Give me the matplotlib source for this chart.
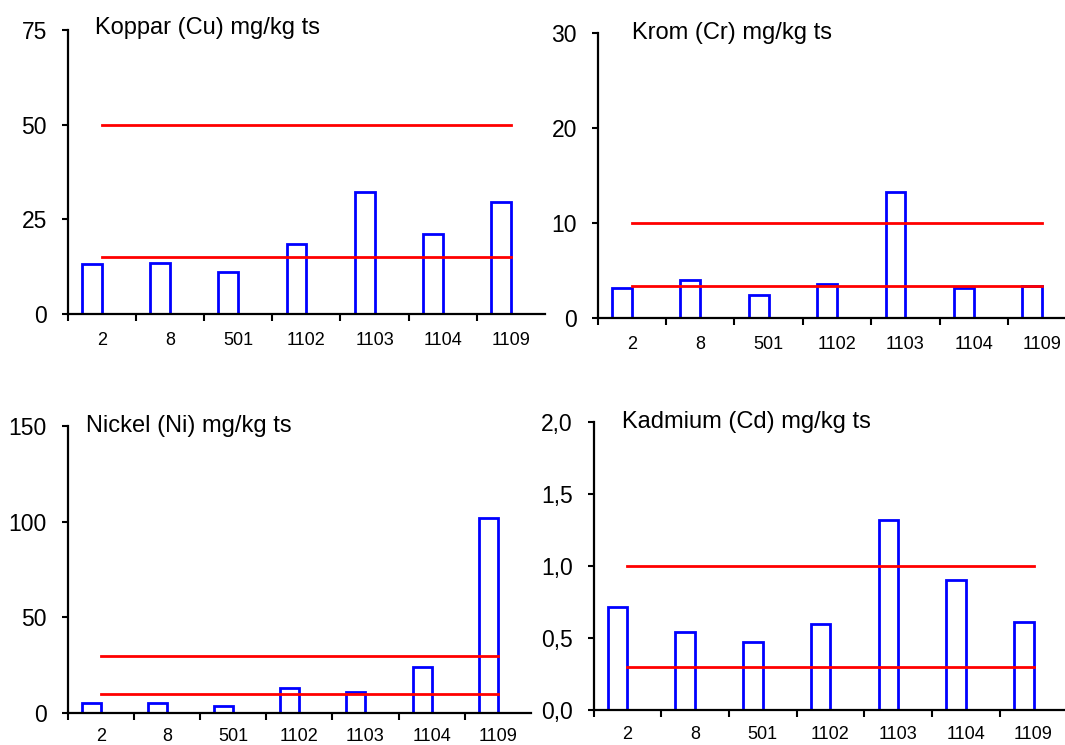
import matplotlib
matplotlib.use('Agg')
import matplotlib.pyplot as plt
import numpy as np

plt.rcParams['font.family'] = ['Liberation Sans', 'DejaVu Sans']

stations = ['2', '8', '501', '1102', '1103', '1104', '1109']

cu_values = [13.2, 13.6, 11.1, 18.5, 32.2, 21.1, 29.7]
cu_limits = [50, 15]
cu_ticks = [0, 25, 50, 75]

cr_values = [3.2, 4.07, 2.4, 3.6, 13.3, 3.2, 3.4]
cr_limits = [10, 3.4]
cr_ticks = [0, 10, 20, 30]

ni_values = [5.2, 5.2, 4.0, 13.3, 11.1, 24.0, 102]
ni_limits = [30, 10]
ni_ticks = [0, 50, 100, 150]

cd_values = [0.72, 0.545, 0.475, 0.60, 1.32, 0.906, 0.614]
cd_limits = [1.0, 0.3]
cd_ticks = [0.0, 0.5, 1.0, 1.5, 2.0]

W, H = 1065, 745

panels = [
    # title, values, limits, yticks, decimals, axes rect (px: left, top, right, bottom), title pos (px: x, baseline), label pad
    ('Koppar (Cu) mg/kg ts', cu_values, cu_limits, cu_ticks, 0, (67.8, 30, 545, 314), (94.7, 34), 13),
    ('Krom (Cr) mg/kg ts', cr_values, cr_limits, cr_ticks, 0, (597.6, 33, 1076.4, 318.3), (632, 39), 13),
    ('Nickel (Ni) mg/kg ts', ni_values, ni_limits, ni_ticks, 0, (67.6, 425.7, 531, 713.3), (86.2, 432.3), 10.5),
    ('Kadmium (Cd) mg/kg ts', cd_values, cd_limits, cd_ticks, 1, (593.5, 422.3, 1067.4, 710.3), (622, 428.3), 11.5),
]

fig = plt.figure(figsize=(W / 100, H / 100), dpi=100)

bar_w = 0.29
n = len(stations)
centers = np.arange(n) + 0.5

for title, vals, limits, yticks, dec, (l, t, r, b), (tx, ty), xpad in panels:
    ax = fig.add_axes([l / W, (H - b) / H, (r - l) / W, (b - t) / H])
    ax.bar(centers - bar_w, vals, width=bar_w, align='edge',
           facecolor='none', edgecolor='#0000FF', linewidth=2, zorder=2)
    for lim in limits:
        ax.plot([centers[0], centers[-1]], [lim, lim], color='#FF0000', linewidth=2, zorder=3)

    ax.set_xlim(0, n)
    ax.set_ylim(yticks[0], yticks[-1])

    ax.set_xticks(np.arange(n))
    ax.set_xticklabels([])
    ax.set_xticks(centers, minor=True)
    ax.set_xticklabels(stations, minor=True, fontsize=13)
    ax.tick_params(axis='x', which='major', direction='out', length=5, width=1.5)
    ax.tick_params(axis='x', which='minor', length=0, pad=xpad)

    ax.set_yticks(yticks)
    if dec:
        ax.set_yticklabels([f'{v:.1f}'.replace('.', ',') for v in yticks])
    else:
        ax.set_yticklabels([str(v) for v in yticks])
    ax.tick_params(axis='y', direction='out', length=4, width=1.5, labelsize=16.5, pad=11)

    for side in ['top', 'right']:
        ax.spines[side].set_visible(False)
    for side in ['left', 'bottom']:
        ax.spines[side].set_linewidth(1.6)
    ax.patch.set_alpha(0)

    fig.text(tx / W, (H - ty) / H, title, fontsize=17, ha='left', va='baseline')

fig.savefig('out.png', dpi=100)
